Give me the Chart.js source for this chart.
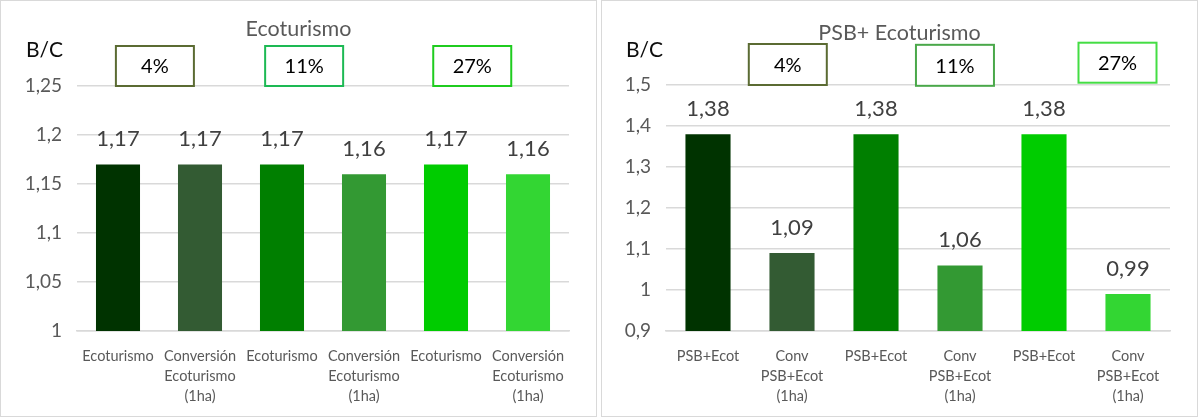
<!DOCTYPE html>
<html>
<head>
<meta charset="utf-8">
<script src="https://cdn.jsdelivr.net/npm/chart.js@4.4.1/dist/chart.umd.min.js"></script>
<style>
  body { margin: 0; background: #fff; }
  .panel { position: absolute; top: 0; width: 597px; height: 417px; }
  .frame { position: absolute; top: 0; width: 595px; height: 415px; border: 1px solid #d9d9d9; pointer-events: none; }
</style>
</head>
<body>
<div class="panel" style="left:0"><canvas id="leftChart" width="597" height="417"></canvas></div>
<div class="frame" style="left:0"></div>
<div class="panel" style="left:601px"><canvas id="rightChart" width="597" height="417"></canvas></div>
<div class="frame" style="left:601px"></div>

<script>
// Data
const leftCategories = [
    'Ecoturismo', ['Conversión', 'Ecoturismo', '(1ha)'],
    'Ecoturismo', ['Conversión', 'Ecoturismo', '(1ha)'],
    'Ecoturismo', ['Conversión', 'Ecoturismo', '(1ha)']
];
const leftValues = [1.17, 1.17, 1.17, 1.16, 1.17, 1.16];

const rightCategories = [
    'PSB+Ecot', ['Conv', 'PSB+Ecot', '(1ha)'],
    'PSB+Ecot', ['Conv', 'PSB+Ecot', '(1ha)'],
    'PSB+Ecot', ['Conv', 'PSB+Ecot', '(1ha)']
];
const rightValues = [1.38, 1.09, 1.38, 1.06, 1.38, 0.99];

const rateLabels = ['4%', '11%', '27%'];

const barColors = ['#003300', '#335b33', '#007f00', '#339933', '#00cc00', '#33d633'];
const FONT = 'Lato, "Open Sans", sans-serif';

// Format numbers with a decimal comma
function fmt(v) {
    return String(Number(v.toFixed(2))).replace('.', ',');
}

// Draws title, axis caption, value labels and the rate boxes
const decorPlugin = {
    id: 'decor',
    afterDatasetsDraw(chart, args, opts) {
        const ctx = chart.ctx;
        const xs = chart.scales.x;
        const ys = chart.scales.y;
        ctx.save();

        // title
        ctx.font = '21.5px ' + FONT;
        ctx.fillStyle = '#595959';
        ctx.textAlign = 'center';
        ctx.textBaseline = 'middle';
        ctx.fillText(opts.title, chart.width / 2, opts.titleY);

        // B/C caption
        ctx.font = '21px ' + FONT;
        ctx.fillStyle = '#0d0d0d';
        ctx.textAlign = 'left';
        ctx.fillText('B/C', opts.captionX, 50);

        // value labels
        ctx.font = '22px ' + FONT;
        ctx.fillStyle = '#404040';
        ctx.textAlign = 'center';
        const meta = chart.getDatasetMeta(0);
        meta.data.forEach((bar, i) => {
            ctx.fillText(fmt(chart.data.datasets[0].data[i]), bar.x, bar.y - 25);
        });

        // rate boxes
        opts.boxes.forEach((b, i) => {
            const cx = xs.left + (b.at + 0.5) * (xs.width / chart.data.labels.length);
            const bottom = ys.getPixelForValue(b.base);
            const w = 78, h = b.h;
            ctx.fillStyle = '#ffffff';
            ctx.fillRect(cx - w / 2, bottom - h, w, h);
            ctx.strokeStyle = b.color;
            ctx.lineWidth = 2;
            ctx.strokeRect(cx - w / 2, bottom - h, w, h);
            ctx.font = '20px ' + FONT;
            ctx.fillStyle = '#000000';
            ctx.textAlign = 'center';
            ctx.fillText(rateLabels[i], cx, bottom - h / 2 + 1);
        });
        ctx.restore();
    }
};

function makeChart(id, labels, values, yMin, yMax, step, yWidth, decor) {
    return new Chart(document.getElementById(id), {
        type: 'bar',
        data: {
            labels: labels,
            datasets: [{
                data: values,
                backgroundColor: barColors,
                barPercentage: 0.537,
                categoryPercentage: 1
            }]
        },
        options: {
            responsive: false,
            animation: false,
            layout: { padding: { top: decor.top, right: 28, left: 0, bottom: 0 } },
            plugins: {
                legend: { display: false },
                tooltip: { enabled: false },
                decor: decor
            },
            scales: {
                x: {
                    grid: { display: false },
                    border: { color: '#d9d9d9', width: 1.5 },
                    ticks: {
                        color: '#595959',
                        font: { family: FONT, size: 14.5, lineHeight: 1.35 },
                        padding: 8,
                        maxRotation: 0,
                        autoSkip: false
                    },
                    afterFit: s => { s.height = 86; }
                },
                y: {
                    min: yMin,
                    max: yMax,
                    grid: { color: '#d9d9d9', lineWidth: 1.5, drawTicks: false },
                    border: { display: false },
                    ticks: {
                        stepSize: step,
                        color: '#595959',
                        font: { family: FONT, size: 19 },
                        padding: 15,
                        callback: v => fmt(v)
                    },
                    afterFit: s => { s.width = yWidth; }
                }
            }
        },
        plugins: [decorPlugin]
    });
}

makeChart('leftChart', leftCategories, leftValues, 1, 1.25, 0.05, 77, {
    title: 'Ecoturismo', titleY: 29, captionX: 26, top: 86,
    boxes: [
        { at: 0.45, base: 1.25, h: 40, color: '#5b6b33' },
        { at: 2.27, base: 1.25, h: 40, color: '#1db954' },
        { at: 4.32, base: 1.25, h: 40, color: '#1fcc1f' }
    ]
});

makeChart('rightChart', rightCategories, rightValues, 0.9, 1.5, 0.1, 65, {
    title: 'PSB+ Ecoturismo', titleY: 33, captionX: 25, top: 85,
    boxes: [
        { at: 0.95, base: 1.5, h: 41, color: '#5b6b33' },
        { at: 2.94, base: 1.498, h: 41, color: '#4aa84a' },
        { at: 4.875, base: 1.5056, h: 40, color: '#44dd44' }
    ]
});
</script>
</body>
</html>
